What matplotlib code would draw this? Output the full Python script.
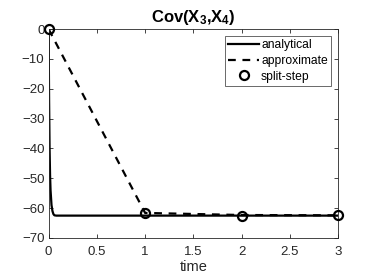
import matplotlib
matplotlib.use("Agg")
import matplotlib.pyplot as plt

# analytical solution
t_analytical = [0, 0.002, 0.005, 0.01, 0.015, 0.02, 0.03, 0.04, 0.05, 0.06, 0.08, 0.1, 0.5, 1.0, 1.5, 2.0, 2.5, 3.0]
v_analytical = [0, -10, -24, -40, -49, -54, -59, -61, -62, -62.4, -62.5, -62.5, -62.5, -62.5, -62.5, -62.5, -62.5, -62.5]

# approximate
t_approx = [0, 1, 2, 3]
v_approx = [0, -61.6, -62.3, -62.4]

# split-step
t_split = [0, 1, 2, 3]
v_split = [0, -61.7, -62.7, -62.4]

x_ticks = [0, 0.5, 1, 1.5, 2, 2.5, 3]
x_ticklabels = ['0', '0.5', '1', '1.5', '2', '2.5', '3']
y_ticks = [-70, -60, -50, -40, -30, -20, -10, 0]

plt.rcParams['font.family'] = ['Liberation Sans', 'DejaVu Sans']
plt.rcParams['mathtext.default'] = 'regular'
fig = plt.figure(figsize=(3.74, 2.8), dpi=100)
ax = fig.add_axes([0.130, 0.150, 0.774, 0.746])

ax.plot(t_analytical, v_analytical, '-', color='black', lw=1.6, label='analytical')
ax.plot(t_approx, v_approx, '--', color='black', lw=1.6, dashes=(3.5, 3), label='approximate')
ax.plot(t_split, v_split, 'o', color='black', mfc='none', mew=1.6, ms=6.5, label='split-step', clip_on=False, zorder=5)

ax.set_xlim(0, 3)
ax.set_ylim(-70, 0)
ax.set_xticks(x_ticks)
ax.set_xticklabels(x_ticklabels)
ax.set_yticks(y_ticks)
ax.tick_params(direction='in', top=True, right=True, labelsize=9.5, colors='#262626', length=3, width=0.6)
ax.tick_params(axis='x', pad=6)
ax.tick_params(axis='y', pad=3)
for s in ax.spines.values():
    s.set_color('#262626')
    s.set_linewidth(0.6)
ax.set_xlabel('time', fontsize=10.5, color='#262626', labelpad=1)
ax.set_title(r'Cov(X$_3$,X$_4$)', fontsize=12, fontweight='bold', pad=5)

leg = ax.legend(loc='upper right', fontsize=8.7, frameon=True, fancybox=False,
                edgecolor='#262626', handlelength=2.5, handletextpad=0.2,
                borderpad=0.3, labelspacing=0.3, borderaxespad=0.55)
leg.get_frame().set_linewidth(0.6)

fig.savefig('out.png', dpi=100)
